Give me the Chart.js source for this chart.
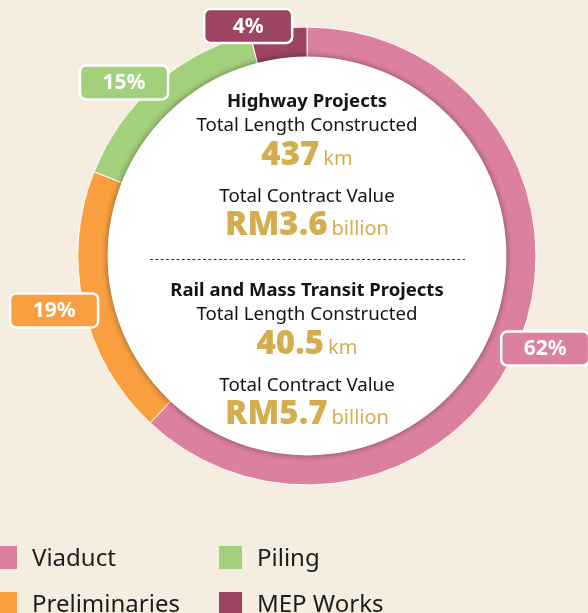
<!DOCTYPE html>
<html>
<head>
<meta charset="utf-8">
<script src="https://cdn.jsdelivr.net/npm/chart.js@4"></script>
<style>
  html, body { margin: 0; padding: 0; background: #f5ede0; overflow: hidden; }
  #wrap { position: relative; width: 588px; height: 613px; }
  #chart { position: absolute; left: 0; top: 0; }
  .legend { position: absolute; font-family: "Noto Sans", sans-serif; font-size: 24px; color: #1c1c1c; }
  .legend span.box { position: absolute; width: 23px; height: 23px; }
  .legend span.txt { position: absolute; white-space: nowrap; line-height: 23px; }
</style>
</head>
<body>
<div id="wrap">
  <canvas id="chart" width="588" height="613"></canvas>
  <div id="legend"></div>
</div>
<script>
// slices, clockwise from 12 o'clock
const categories = ['Viaduct', 'Preliminaries', 'Piling', 'MEP Works'];
const shares = [62, 19, 15, 4];
const colors = ['#dc80a0', '#f99f3f', '#a3d07a', '#9c4461'];

// nudges for the % tags (px) so they sit like the original
const tagNudge = [[2, -1], [-5, -1], [-15, 17], [-27, 22]];

const gold = '#d4ae4e';
const ink = '#141414';
const FONT = '"Noto Sans", sans-serif';

const blocks = [
  { title: 'Highway Projects', length: '437', value: 'RM3.6' },
  { title: 'Rail and Mass Transit Projects', length: '40.5', value: 'RM5.7' },
];

function drawPair(ctx, x, y, big, small) {
  ctx.font = '900 33px ' + FONT;
  const w1 = ctx.measureText(big).width;
  ctx.font = '400 20px ' + FONT;
  const w2 = ctx.measureText(small).width;
  const gap = 4;
  let left = x - (w1 + gap + w2) / 2;
  ctx.textAlign = 'left';
  ctx.fillStyle = gold;
  ctx.font = '900 33px ' + FONT;
  ctx.fillText(big, left, y);
  ctx.font = '400 20px ' + FONT;
  ctx.fillText(small, left + w1 + gap, y);
}

const centerPlugin = {
  id: 'centerPlugin',
  afterDatasetsDraw(chart) {
    const ctx = chart.ctx;
    const arc = chart.getDatasetMeta(0).data[0];
    const cx = arc.x, cy = arc.y;
    const r = arc.innerRadius + 1;

    // white disc with soft shadow
    ctx.save();
    ctx.shadowColor = 'rgba(0,0,0,0.45)';
    ctx.shadowBlur = 6;
    ctx.beginPath();
    ctx.arc(cx, cy, r, 0, Math.PI * 2);
    ctx.fillStyle = '#ffffff';
    ctx.fill();
    ctx.restore();

    ctx.save();
    ctx.textBaseline = 'alphabetic';
    const offsets = [-149, 40];
    blocks.forEach((b, i) => {
      const y0 = cy + offsets[i];
      ctx.textAlign = 'center';
      ctx.fillStyle = ink;
      ctx.font = '700 18.5px ' + FONT;
      ctx.fillText(b.title, cx, y0);
      ctx.font = '400 18.7px ' + FONT;
      ctx.fillText('Total Length Constructed', cx, y0 + 24);
      drawPair(ctx, cx, y0 + 58, b.length, 'km');
      ctx.textAlign = 'center';
      ctx.fillStyle = ink;
      ctx.font = '400 18.7px ' + FONT;
      ctx.fillText('Total Contract Value', cx, y0 + 95);
      drawPair(ctx, cx, y0 + 128, b.value, 'billion');
    });

    // dashed divider
    ctx.strokeStyle = '#333';
    ctx.lineWidth = 1;
    ctx.setLineDash([3, 2.3]);
    ctx.beginPath();
    ctx.moveTo(cx - 157, cy + 3.5);
    ctx.lineTo(cx + 158, cy + 3.5);
    ctx.stroke();
    ctx.restore();

    // percentage tags
    const meta = chart.getDatasetMeta(0);
    meta.data.forEach((a, i) => {
      const mid = (a.startAngle + a.endAngle) / 2;
      const rr = a.outerRadius + 25;
      const x = a.x + Math.cos(mid) * rr + tagNudge[i][0];
      const y = a.y + Math.sin(mid) * rr + tagNudge[i][1];
      const w = 88, h = 34;
      ctx.save();
      ctx.beginPath();
      ctx.roundRect(x - w / 2, y - h / 2, w, h, 6);
      ctx.fillStyle = colors[i];
      ctx.fill();
      ctx.lineWidth = 2.5;
      ctx.strokeStyle = '#ffffff';
      ctx.stroke();
      ctx.fillStyle = '#ffffff';
      ctx.font = '700 21px ' + FONT;
      ctx.textAlign = 'center';
      ctx.textBaseline = 'middle';
      ctx.fillText(shares[i] + '%', x, y + 1);
      ctx.restore();
    });
  }
};

new Chart(document.getElementById('chart'), {
  type: 'doughnut',
  data: {
    labels: categories,
    datasets: [{
      data: shares,
      backgroundColor: colors,
      borderColor: '#ffffff',
      borderWidth: 1,
    }]
  },
  options: {
    responsive: false,
    animation: false,
    radius: 229,
    cutout: 198,
    layout: { padding: { left: 78, right: 52, top: 27, bottom: 128 } },
    plugins: {
      legend: { display: false },
      tooltip: { enabled: false },
    },
  },
  plugins: [centerPlugin],
});

// legend, column-major like the original
const legendSpots = [[-6, 546], [-6, 592], [219, 546], [219, 592]];
const legendOrder = [0, 1, 2, 3];
const lg = document.getElementById('legend');
legendOrder.forEach((idx, k) => {
  const [lx, ly] = legendSpots[k];
  const d = document.createElement('div');
  d.className = 'legend';
  d.style.left = lx + 'px';
  d.style.top = ly + 'px';
  d.innerHTML = '<span class="box" style="left:0;top:0;background:' + colors[idx] + '"></span>' +
    '<span class="txt" style="left:38px;top:-1px">' + categories[idx] + '</span>';
  lg.appendChild(d);
});
</script>
</body>
</html>
